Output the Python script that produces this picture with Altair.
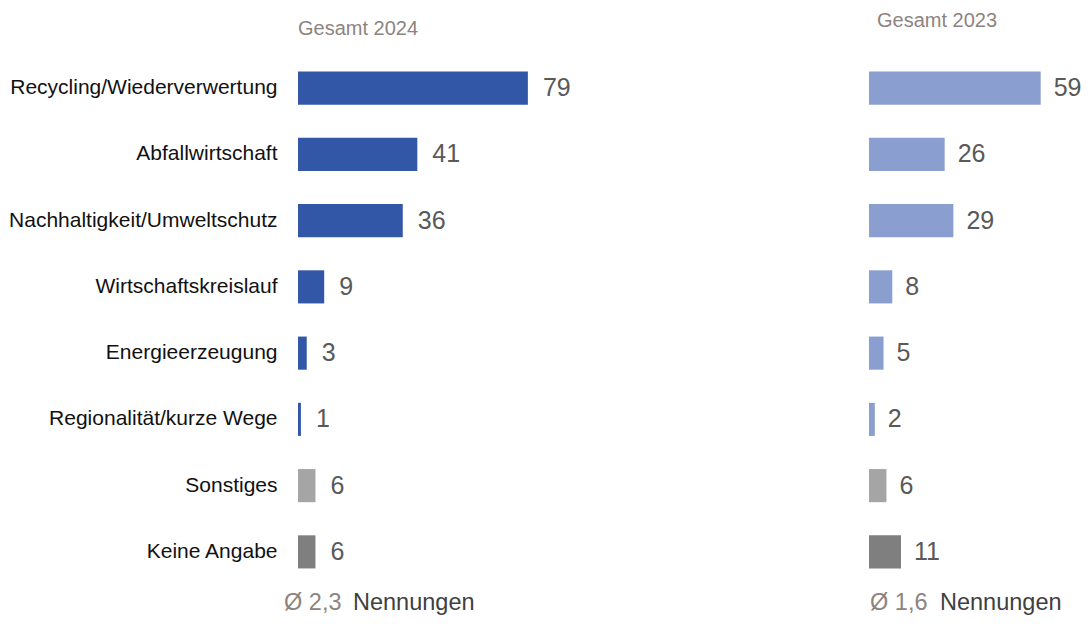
import altair as alt
import pandas as pd

# ---- data -------------------------------------------------------------
kategorien = [
    "Recycling/Wiederverwertung",
    "Abfallwirtschaft",
    "Nachhaltigkeit/Umweltschutz",
    "Wirtschaftskreislauf",
    "Energieerzeugung",
    "Regionalität/kurze Wege",
    "Sonstiges",
    "Keine Angabe",
]
werte_2024 = [79, 41, 36, 9, 3, 1, 6, 6]
werte_2023 = [59, 26, 29, 8, 5, 2, 6, 11]
gruppen = ["haupt"] * 6 + ["sonstiges", "keine"]
titel = ["Gesamt 2024", "Gesamt 2023"]
mittelwerte = ["Ø 2,3", "Ø 1,6"]
einheit = "Nennungen"

# ---- style ------------------------------------------------------------
FONT = "Liberation Sans"
PX_PER_UNIT = 2.91
H = 530
WL = 280
WR = 213
BLUE_DARK = "#3357A7"
BLUE_LIGHT = "#8A9ED0"
GRAY_LIGHT = "#A5A5A5"
GRAY_DARK = "#7F7F7F"
TITLE_COL = "#8C8480"
NOVIEW = alt.ViewBackground(stroke="transparent", strokeWidth=0)


def panel(values, main_color, title_text, mean_text, show_axis, width,
          title_x, title_y, mean_x, unit_x, label_dx):
    df = pd.DataFrame({"kategorie": kategorien, "wert": values, "gruppe": gruppen})
    if show_axis:
        yax = alt.Axis(domain=False, ticks=False, grid=False, labelFontSize=21,
                       labelColor="#111111", labelPadding=21, labelFont=FONT,
                       labelLimit=400)
    else:
        yax = None
    y = alt.Y("kategorie:N", sort=kategorien, title=None, axis=yax,
              scale=alt.Scale(paddingInner=0.5, paddingOuter=0.25))
    x = alt.X("wert:Q", axis=None,
              scale=alt.Scale(domain=[0, width / PX_PER_UNIT], nice=False, zero=True))
    bars = alt.Chart(df).mark_bar().encode(
        x=x, y=y,
        color=alt.Color("gruppe:N", legend=None,
                        scale=alt.Scale(domain=["haupt", "sonstiges", "keine"],
                                        range=[main_color, GRAY_LIGHT, GRAY_DARK])),
    )
    labels = alt.Chart(df).mark_text(
        align="left", baseline="middle", dx=label_dx, fontSize=25, color="#595959",
        font=FONT
    ).encode(x=x, y=y, text="wert:Q")

    tdf = pd.DataFrame({"t": [title_text]})
    title = alt.Chart(tdf).mark_text(
        align="left", baseline="top", fontSize=20, color=TITLE_COL, font=FONT
    ).encode(x=alt.value(title_x), y=alt.value(title_y), text="t:N")

    mdf = pd.DataFrame({"t": [mean_text]})
    mean = alt.Chart(mdf).mark_text(
        align="left", baseline="bottom", fontSize=23.5, color=TITLE_COL, font=FONT
    ).encode(x=alt.value(mean_x), y=alt.value(H + 30), text="t:N")

    udf = pd.DataFrame({"t": [einheit]})
    unit = alt.Chart(udf).mark_text(
        align="left", baseline="bottom", fontSize=23.5, color="#404040", font=FONT
    ).encode(x=alt.value(unit_x), y=alt.value(H + 30), text="t:N")

    return (
        alt.layer(bars, labels, title, mean, unit)
        .properties(width=width, height=H, view=NOVIEW)
    )


left = panel(werte_2024, BLUE_DARK, titel[0], mittelwerte[0], True, WL,
             0, -36, -14, 55, 15)
right = panel(werte_2023, BLUE_LIGHT, titel[1], mittelwerte[1], False, WR,
              8, -44, 1, 71, 13)

chart = (
    alt.hconcat(left, right, spacing=291)
    .resolve_scale(color="independent", x="independent", y="independent")
    .properties(padding={"top": 3, "left": 0, "right": 0, "bottom": 0},
                background="white")
    .configure_view(stroke="transparent", strokeWidth=0)
    .configure(font=FONT)
)

chart.save("out.html", embed_options={"renderer": "svg", "actions": False})
